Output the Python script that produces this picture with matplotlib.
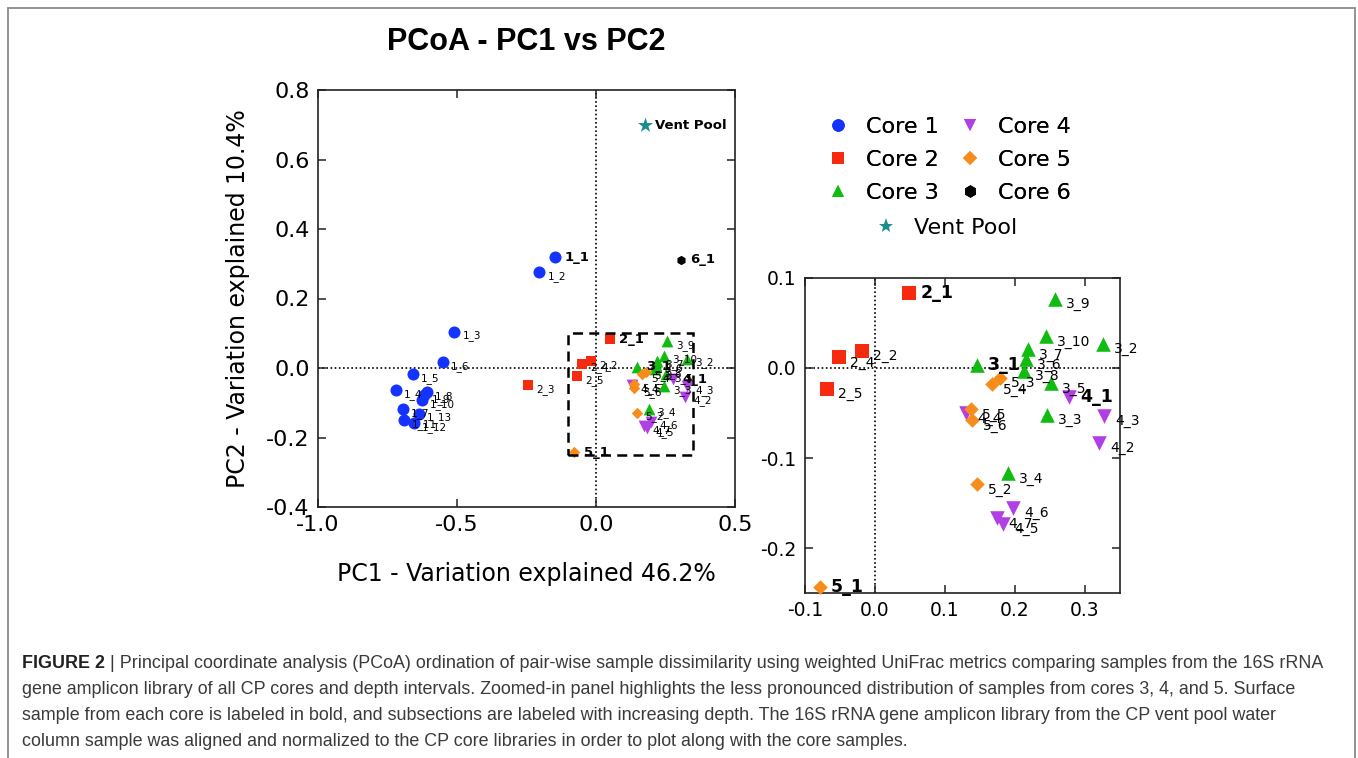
import matplotlib
matplotlib.use("Agg")
import matplotlib.pyplot as plt
from matplotlib.lines import Line2D
from matplotlib.patches import Rectangle

plt.rcParams['axes.unicode_minus'] = False
plt.rcParams['font.family'] = ['DejaVu Sans']

# ---------------- data ----------------
core1_labels = ["1_1", "1_2", "1_3", "1_4", "1_5", "1_6", "1_7", "1_8", "1_9", "1_10", "1_11", "1_12", "1_13"]
core1_x = [-0.147, -0.204, -0.509, -0.720, -0.660, -0.552, -0.695, -0.609, -0.620, -0.627, -0.692, -0.656, -0.638]
core1_y = [0.319, 0.276, 0.104, -0.063, -0.017, 0.017, -0.118, -0.069, -0.078, -0.092, -0.150, -0.158, -0.132]

core2_labels = ["2_1", "2_2", "2_3", "2_4", "2_5"]
core2_x = [0.049, -0.019, -0.244, -0.051, -0.069]
core2_y = [0.083, 0.019, -0.049, 0.012, -0.023]

core3_labels = ["3_1", "3_2", "3_3", "3_4", "3_5", "3_6", "3_7", "3_8", "3_9", "3_10"]
core3_x = [0.146, 0.326, 0.246, 0.190, 0.251, 0.216, 0.219, 0.213, 0.257, 0.244]
core3_y = [0.003, 0.027, -0.052, -0.117, -0.017, 0.010, 0.021, -0.003, 0.077, 0.035]

core4_labels = ["4_1", "4_2", "4_3", "4_4", "4_5", "4_6", "4_7"]
core4_x = [0.277, 0.320, 0.327, 0.130, 0.183, 0.197, 0.174]
core4_y = [-0.032, -0.083, -0.053, -0.050, -0.173, -0.155, -0.167]

core5_labels = ["5_1", "5_2", "5_3", "5_4", "5_5", "5_6"]
core5_x = [-0.079, 0.146, 0.179, 0.167, 0.137, 0.138]
core5_y = [-0.243, -0.129, -0.011, -0.018, -0.046, -0.058]

core6_labels = ["6_1"]
core6_x = [0.305]
core6_y = [0.311]

vent_labels = ["Vent Pool"]
vent_x = [0.176]
vent_y = [0.699]

series_names = ["Core 1", "Core 2", "Core 3", "Core 4", "Core 5", "Core 6", "Vent Pool"]
bold_labels = ["1_1", "2_1", "3_1", "4_1", "5_1", "6_1", "Vent Pool"]

main_xticks = [-1.0, -0.5, 0.0, 0.5]
main_yticks = [-0.4, -0.2, 0.0, 0.2, 0.4, 0.6, 0.8]
zoom_xticks = [-0.1, 0.0, 0.1, 0.2, 0.3]
zoom_yticks = [-0.2, -0.1, 0.0, 0.1]

# ---------------- styles ----------------
styles = {
    "Core 1": dict(marker="o", color="#1433FF", s_main=75, s_zoom=90),
    "Core 2": dict(marker="s", color="#F52A0E", s_main=62, s_zoom=95),
    "Core 3": dict(marker="^", color="#10BC10", s_main=72, s_zoom=110),
    "Core 4": dict(marker="v", color="#B23FE6", s_main=72, s_zoom=110),
    "Core 5": dict(marker="D", color="#F78C1A", s_main=34, s_zoom=55),
    "Core 6": dict(marker="h", color="#000000", s_main=45, s_zoom=45),
    "Vent Pool": dict(marker="*", color="#1A8E8E", s_main=130, s_zoom=130),
}

all_series = [
    ("Core 1", core1_x, core1_y, core1_labels),
    ("Core 2", core2_x, core2_y, core2_labels),
    ("Core 3", core3_x, core3_y, core3_labels),
    ("Core 4", core4_x, core4_y, core4_labels),
    ("Core 5", core5_x, core5_y, core5_labels),
    ("Core 6", core6_x, core6_y, core6_labels),
    ("Vent Pool", vent_x, vent_y, vent_labels),
]

W, H = 1358, 758
fig = plt.figure(figsize=(W / 100, H / 100), dpi=100)

# outer border
fig.add_artist(Rectangle((8 / W, -0.02), (1355 - 8) / W, 1 - 8 / H + 0.02,
                         transform=fig.transFigure, fill=False,
                         edgecolor="#8a8a8a", linewidth=1.3))

def style_axes(ax, fs):
    for sp in ax.spines.values():
        sp.set_linewidth(1.2)
        sp.set_color("#222222")
    ax.tick_params(direction="in", top=True, right=True, length=6, width=1.1,
                   labelsize=fs, pad=6, colors="#222222")
    ax.tick_params(labelcolor="black")
    ax.axhline(0, color="black", ls=(0, (1, 1.5)), lw=1.2, zorder=1)
    ax.axvline(0, color="black", ls=(0, (1, 1.5)), lw=1.2, zorder=1)

# ---------------- main axes ----------------
ax = fig.add_axes([318 / W, 1 - 507 / H, 417 / W, 417 / H])
ax.set_xlim(-1.0, 0.5)
ax.set_ylim(-0.4, 0.8)
ax.set_xticks(main_xticks)
ax.set_yticks(main_yticks)
ax.xaxis.set_major_formatter(matplotlib.ticker.FormatStrFormatter("%.1f"))
ax.yaxis.set_major_formatter(matplotlib.ticker.FormatStrFormatter("%.1f"))
style_axes(ax, 16)
ax.set_xlabel("PC1 - Variation explained 46.2%", fontsize=17, labelpad=19)
ax.set_ylabel("PC2 - Variation explained 10.4%", fontsize=17, labelpad=12)

for name, xs, ys, labs in all_series:
    st = styles[name]
    ax.scatter(xs, ys, marker=st["marker"], color=st["color"], s=st["s_main"],
               linewidths=0, zorder=3)
    for x, y, lab in zip(xs, ys, labs):
        if lab in bold_labels:
            ax.annotate(lab, (x, y), xytext=(7, 0), textcoords="offset points",
                        fontsize=9.5, fontweight="bold", va="center", zorder=4)
        else:
            ax.annotate(lab, (x, y), xytext=(6, -3), textcoords="offset points",
                        fontsize=7.5, va="center", zorder=4)

# dashed zoom rectangle
ax.add_patch(Rectangle((zoom_xticks[0], -0.25), 0.45, 0.35, fill=False,
                       edgecolor="black", lw=1.8, ls=(0, (4, 2.5)), zorder=5))

fig.text(526 / W, 1 - 42 / H, "PCoA - PC1 vs PC2", fontsize=22, fontweight="bold",
         family="Liberation Sans", ha="center", va="center")

# ---------------- zoom axes ----------------
az = fig.add_axes([805 / W, 1 - 593 / H, 315 / W, 315 / H])
zx0, zx1, zy0, zy1 = -0.1, 0.35, -0.25, 0.1
az.set_xlim(zx0, zx1)
az.set_ylim(zy0, zy1)
az.set_xticks(zoom_xticks)
az.set_yticks(zoom_yticks)
az.xaxis.set_major_formatter(matplotlib.ticker.FormatStrFormatter("%.1f"))
az.yaxis.set_major_formatter(matplotlib.ticker.FormatStrFormatter("%.1f"))
style_axes(az, 13.5)

for name, xs, ys, labs in all_series[:5]:
    st = styles[name]
    inside = [(x, y, l) for x, y, l in zip(xs, ys, labs)
              if zx0 <= x <= zx1 and zy0 <= y <= zy1]
    if not inside:
        continue
    ix = [p[0] for p in inside]
    iy = [p[1] for p in inside]
    az.scatter(ix, iy, marker=st["marker"], color=st["color"], s=st["s_zoom"],
               linewidths=0, zorder=3, clip_on=False)
    for x, y, lab in inside:
        if lab in bold_labels:
            az.annotate(lab, (x, y), xytext=(8, 0), textcoords="offset points",
                        fontsize=12.5, fontweight="bold", va="center", zorder=4)
        else:
            az.annotate(lab, (x, y), xytext=(8, -4), textcoords="offset points",
                        fontsize=10, va="center", zorder=4)

# ---------------- legend ----------------
handles = [Line2D([], [], ls="none", marker=styles[n]["marker"], color=styles[n]["color"],
                  markersize=(9 if n != "Core 5" else 7) if n != "Vent Pool" else 11,
                  markeredgewidth=0)
           for n in series_names]
leg1 = fig.legend(handles[:6], series_names[:6], ncol=2, frameon=False,
                  loc="upper left", bbox_to_anchor=(827 / W, 1 - 117 / H),
                  borderpad=0, borderaxespad=0, handlelength=1.0, handletextpad=0.75,
                  columnspacing=0.9, labelspacing=0.58, fontsize=16)
leg2 = fig.legend(handles[6:], series_names[6:], frameon=False,
                  loc="upper left", bbox_to_anchor=(875 / W, 1 - 218 / H),
                  borderpad=0, borderaxespad=0, handlelength=1.0, handletextpad=0.75,
                  fontsize=16)
fig.add_artist(leg1)

# ---------------- caption ----------------
caption_lines = [
    "Principal coordinate analysis (PCoA) ordination of pair-wise sample dissimilarity using weighted UniFrac metrics comparing samples from the 16S rRNA",
    "gene amplicon library of all CP cores and depth intervals. Zoomed-in panel highlights the less pronounced distribution of samples from cores 3, 4, and 5. Surface",
    "sample from each core is labeled in bold, and subsections are labeled with increasing depth. The 16S rRNA gene amplicon library from the CP vent pool water",
    "column sample was aligned and normalized to the CP core libraries in order to plot along with the core samples.",
]
cap_fs = 12.9
cap_color = "#3a3a3a"
line_y = [663, 690, 716, 741]
renderer = fig.canvas.get_renderer()
t0 = fig.text(22 / W, 1 - line_y[0] / H, "FIGURE 2", fontsize=cap_fs, fontweight="bold",
              family="Liberation Sans", color="#222222", va="center")
bb = t0.get_window_extent(renderer=renderer)
fig.text(bb.x1 / W, 1 - line_y[0] / H, " | " + caption_lines[0], fontsize=cap_fs,
         family="Liberation Sans", color=cap_color, va="center")
for ln, yy in zip(caption_lines[1:], line_y[1:]):
    fig.text(22 / W, 1 - yy / H, ln, fontsize=cap_fs, family="Liberation Sans",
             color=cap_color, va="center")

fig.savefig("out.png", dpi=100)
